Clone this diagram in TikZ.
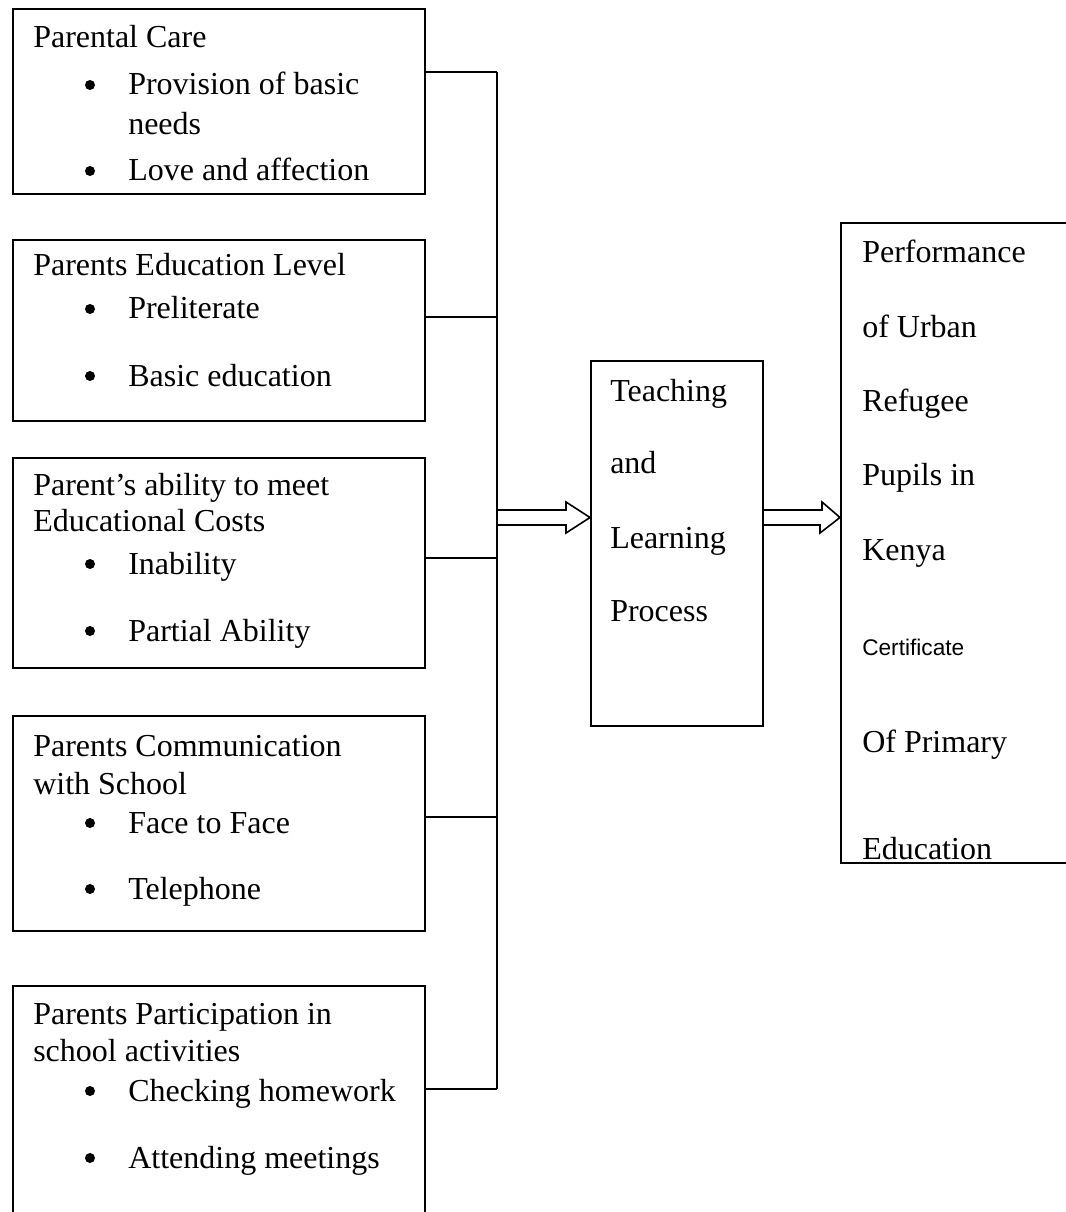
\documentclass[tikz,border=0pt]{standalone}
\usepackage{fontspec}
\setmainfont{Liberation Serif}
\newfontfamily\sansf{Liberation Sans}
\begin{document}
\begin{tikzpicture}[x=0.75pt,y=-0.75pt,
  box/.style={draw,line width=1.5pt,rectangle,anchor=north west,inner sep=0pt},
  txt/.style={anchor=base west,inner sep=0pt,font=\fontsize{24}{28}\selectfont},
  bul/.style={circle,fill=black,inner sep=0pt,minimum size=7.5pt},
  conn/.style={line width=1pt},
  harrow/.style={line width=1.2pt,line join=miter}]
\useasboundingbox (0,0) rectangle (1065,1212);
% boxes
\node[box,minimum width=309pt,minimum height=138.75pt] (b1) at (12,8) {};
\node[box,minimum width=309pt,minimum height=135.75pt] (b2) at (12,239) {};
\node[box,minimum width=309pt,minimum height=157.5pt] (b3) at (12,457) {};
\node[box,minimum width=309pt,minimum height=161.25pt] (b4) at (12,715) {};
\node[box,minimum width=309pt,minimum height=195pt] (b5) at (12,985) {};
\node[box,minimum width=129pt,minimum height=273.75pt] (tl) at (590,360) {};
\node[box,minimum width=190pt,minimum height=480pt] (pf) at (840,222) {};
% texts box1
\node[txt] (t11) at (33,48) {Parental Care};
\node[bul] (d11) at (90,85) {};
\node[txt] (t12) at (128,95) {Provision of basic};
\node[txt] (t13) at (128,135) {needs};
\node[bul] (d12) at (90,171) {};
\node[txt] (t14) at (128,181) {Love and affection};
% box2
\node[txt] (t21) at (33,276) {Parents Education Level};
\node[bul] (d21) at (90,309) {};
\node[txt] (t22) at (128,319) {Preliterate};
\node[bul] (d22) at (90,376) {};
\node[txt] (t23) at (128,386) {Basic education};
% box3
\node[txt] (t31) at (33,495) {Parent’s ability to meet};
\node[txt] (t32) at (33,531) {Educational Costs};
\node[bul] (d31) at (90,564) {};
\node[txt] (t33) at (128,574) {Inability};
\node[bul] (d32) at (90,631) {};
\node[txt] (t34) at (128,641) {Partial Ability};
% box4
\node[txt] (t41) at (33,756) {Parents Communication};
\node[txt] (t42) at (33,794) {with School};
\node[bul] (d41) at (90,823) {};
\node[txt] (t43) at (128,833) {Face to Face};
\node[bul] (d42) at (90,889) {};
\node[txt] (t44) at (128,899) {Telephone};
% box5
\node[txt] (t51) at (33,1024) {Parents Participation in};
\node[txt] (t52) at (33,1061) {school activities};
\node[bul] (d51) at (90,1091) {};
\node[txt] (t53) at (128,1101) {Checking homework};
\node[bul] (d52) at (90,1158) {};
\node[txt] (t54) at (128,1168) {Attending meetings};
% teaching
\node[txt] (tt1) at (610,401) {Teaching};
\node[txt] (tt2) at (610,473) {and};
\node[txt] (tt3) at (610,548) {Learning};
\node[txt] (tt4) at (610,621) {Process};
% performance
\node[txt] (p1) at (862,263) {Performance};
\node[txt] (p2) at (862,337) {of Urban};
\node[txt] (p3) at (862,411) {Refugee};
\node[txt] (p4) at (862,485) {Pupils in};
\node[txt] (p5) at (862,560) {Kenya};
\node[txt,font=\sansf\fontsize{17}{20}\selectfont] (p6) at (862,655) {Certificate};
\node[txt] (p7) at (862,752) {Of Primary};
\node[txt] (p8) at (862,859) {Education};
% bus
\coordinate (c1) at (497,72);
\coordinate (c2) at (497,317);
\coordinate (c3) at (497,558);
\coordinate (c4) at (497,817);
\coordinate (c5) at (497,1089);
\draw[conn] (b1.east |- c1) -- (c1);
\draw[conn] (b2.east |- c2) -- (c2);
\draw[conn] (b3.east |- c3) -- (c3);
\draw[conn] (b4.east |- c4) -- (c4);
\draw[conn] (b5.east |- c5) -- (c5);
\draw[conn] (c1) -- (c5);
% arrows
\coordinate (a1) at (497,517.5);
\draw[harrow] (a1) ++(0,-7.5) -- ++(69,0) -- ++(0,-8) -- (tl.west |- a1) -- ++(-24,15.5) -- ++(0,-8) -- ++(-69,0);
\draw[harrow] (tl.east |- a1) ++(0,-7.5) -- ++(58,0) -- ++(0,-8) -- (pf.west |- a1) -- ++(-20,15.5) -- ++(0,-8) -- ++(-58,0);
\end{tikzpicture}
\end{document}
